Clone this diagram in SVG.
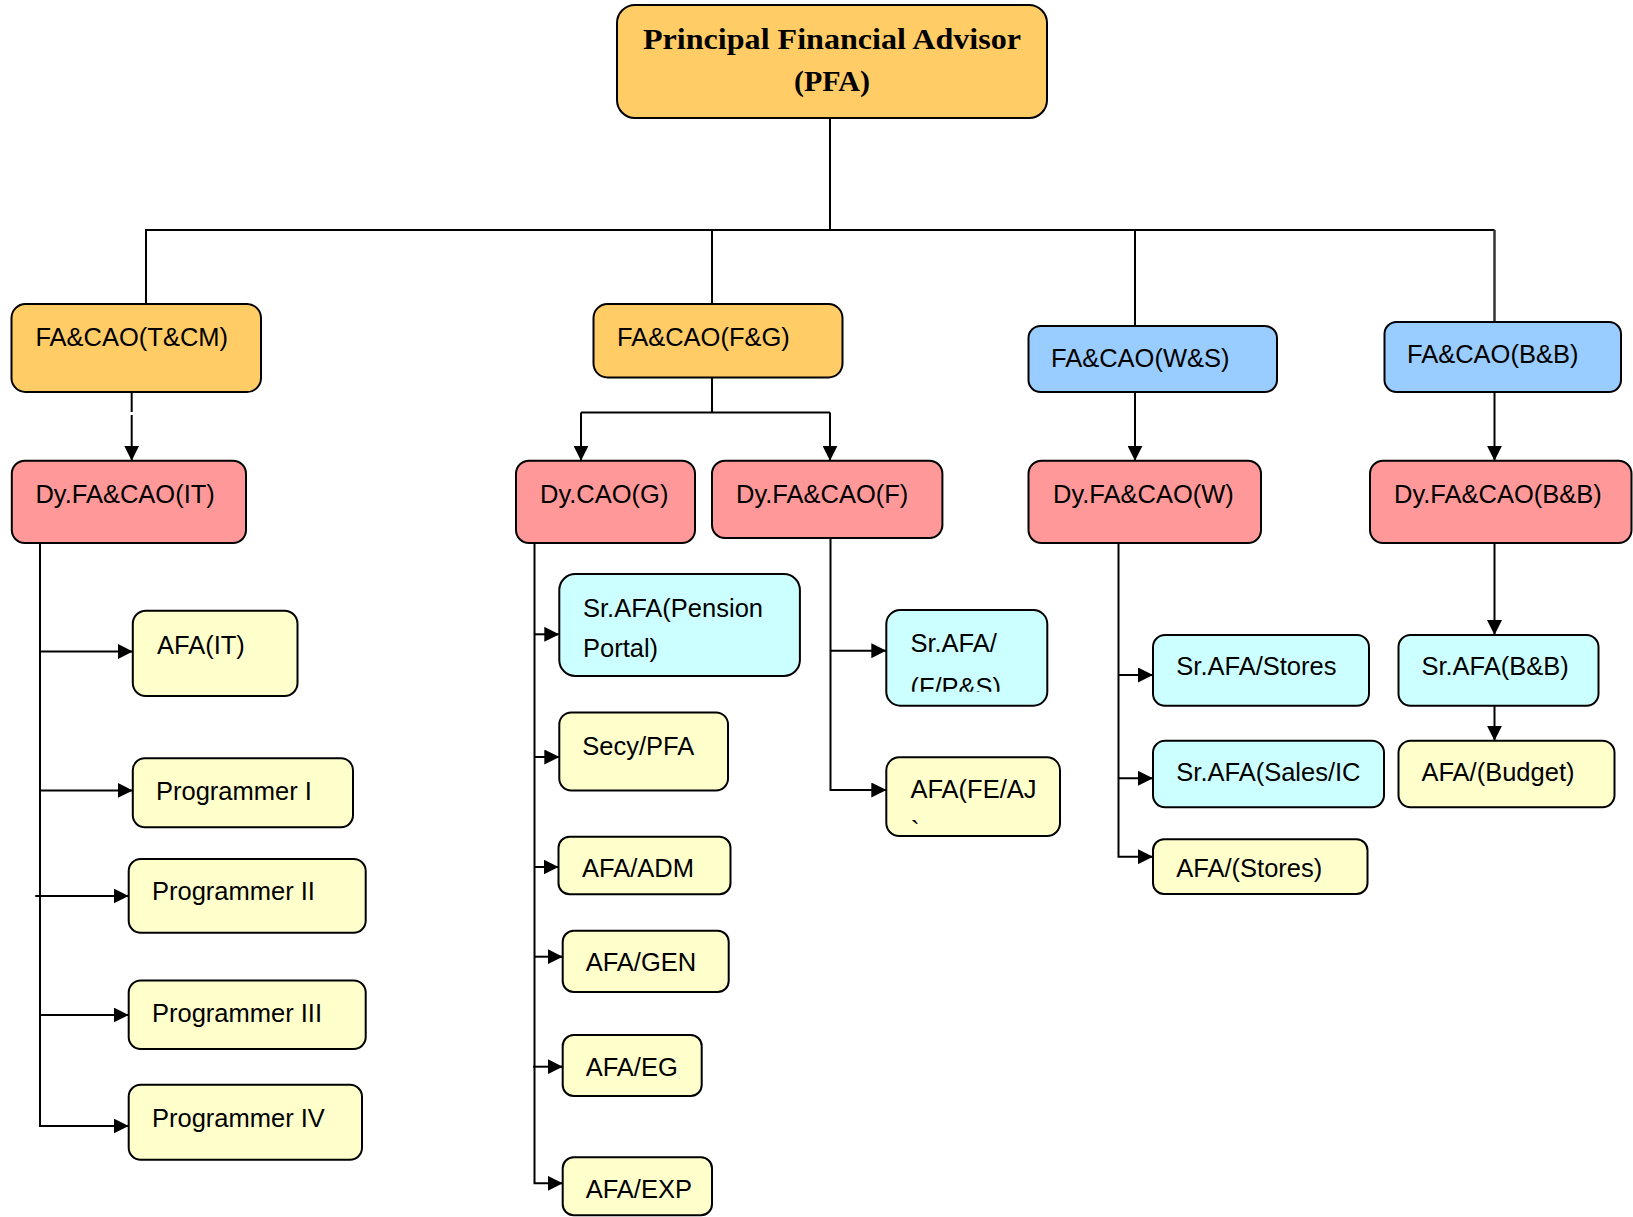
<svg xmlns="http://www.w3.org/2000/svg" width="1633" height="1217" viewBox="0 0 1633 1217">
<style>
.box{stroke:#000;stroke-width:2}
.org{fill:#FFCC66}
.blu{fill:#99CCFF}
.pnk{fill:#FF9999}
.cyn{fill:#CCFFFF}
.yel{fill:#FFFFCC}
.t{font-family:"Liberation Sans",Arial,sans-serif;font-size:25.5px;fill:#000}
.h{font-family:"Liberation Serif","Times New Roman",serif;font-size:30px;font-weight:bold;fill:#000}
.c{fill:none;stroke:#000;stroke-width:2}
.a{fill:none;stroke:#000;stroke-width:2;marker-end:url(#arr)}
</style>
<defs>
<marker id="arr" viewBox="0 0 10 10" refX="10" refY="5" markerWidth="15" markerHeight="15" markerUnits="userSpaceOnUse" orient="auto">
<path d="M0,0 L10,5 L0,10 z" fill="#000"/>
</marker>
<clipPath id="clipFPS"><rect x="886" y="600" width="170" height="91.7"/></clipPath>
</defs>
<rect width="1633" height="1217" fill="#fff"/>

<g id="connectors">
<path class="c" d="M830,118 V230"/>
<path class="c" d="M146,304 V230 H1494.5"/>
<path d="M1494.5,230 V326" fill="none" stroke="#333" stroke-width="2.5"/>
<path class="c" d="M712,230 V304"/>
<path class="c" d="M1135,230 V326"/>
<path class="c" d="M131.7,392 V412"/>
<path class="a" d="M131.7,415 V460.7"/>
<path class="c" d="M712,377.5 V412.5 M581,412.5 H830"/>
<path class="a" d="M581,412.5 V460.7"/>
<path class="a" d="M830,412.5 V460.7"/>
<path class="a" d="M1135,392 V460.7"/>
<path class="a" d="M1494.5,392 V460.7"/>

<path class="a" d="M40,543 V1126 H128.7"/>
<path class="a" d="M40,651.5 H132.8"/>
<path class="a" d="M40,790.4 H132.8"/>
<path class="a" d="M35.3,896 H128.7"/>
<path class="a" d="M40,1015 H128.7"/>

<path class="a" d="M534.5,543 V1183.3 H562.7"/>
<path class="a" d="M534.5,634.3 H559.3"/>
<path class="a" d="M534.5,757 H559.3"/>
<path class="a" d="M534.5,867 H558.5"/>
<path class="a" d="M534.5,956.7 H562.7"/>
<path class="a" d="M533,1066.7 H562.7"/>

<path class="a" d="M830.5,538 V790 H886.3"/>
<path class="a" d="M830.5,650.7 H886.3"/>

<path class="a" d="M1118.5,543 V856.7 H1153"/>
<path class="a" d="M1118.5,675 H1153"/>
<path class="a" d="M1118.5,778.3 H1153"/>

<path class="a" d="M1494.5,543 V635"/>
<path class="a" d="M1494.5,705.7 V740.7"/>
</g>

<g id="pfa">
<rect class="box org" x="617" y="5" width="430" height="113" rx="18"/>
<text class="h" x="832" y="49" text-anchor="middle" textLength="378" lengthAdjust="spacingAndGlyphs">Principal Financial Advisor</text>
<text class="h" x="832" y="91" text-anchor="middle">(PFA)</text>
</g>

<g id="facao-tcm"><rect class="box org" x="11.5" y="304" width="249.5" height="88" rx="14"/><text class="t" x="35.4" y="346.4">FA&amp;CAO(T&amp;CM)</text></g>
<g id="facao-fg"><rect class="box org" x="593.5" y="304" width="249" height="73.5" rx="14"/><text class="t" x="617" y="345.7">FA&amp;CAO(F&amp;G)</text></g>
<g id="facao-ws"><rect class="box blu" x="1028.5" y="326" width="248.5" height="66" rx="12"/><text class="t" x="1051" y="367">FA&amp;CAO(W&amp;S)</text></g>
<g id="facao-bb"><rect class="box blu" x="1384.5" y="322" width="236.5" height="70" rx="12"/><text class="t" x="1407" y="362.5">FA&amp;CAO(B&amp;B)</text></g>

<g id="dy-it"><rect class="box pnk" x="11.8" y="460.7" width="234.2" height="82.3" rx="13"/><text class="t" x="35.4" y="503">Dy.FA&amp;CAO(IT)</text></g>
<g id="dy-g"><rect class="box pnk" x="516" y="460.7" width="179" height="82.3" rx="13"/><text class="t" x="540" y="503">Dy.CAO(G)</text></g>
<g id="dy-f"><rect class="box pnk" x="712" y="460.7" width="230.4" height="77.3" rx="13"/><text class="t" x="736" y="503">Dy.FA&amp;CAO(F)</text></g>
<g id="dy-w"><rect class="box pnk" x="1028.5" y="460.7" width="232.5" height="82.3" rx="13"/><text class="t" x="1053" y="503">Dy.FA&amp;CAO(W)</text></g>
<g id="dy-bb"><rect class="box pnk" x="1370" y="460.7" width="261.5" height="82.3" rx="13"/><text class="t" x="1394" y="503">Dy.FA&amp;CAO(B&amp;B)</text></g>

<g id="afa-it"><rect class="box yel" x="132.8" y="610.7" width="164.7" height="85.3" rx="13"/><text class="t" x="157" y="653.5">AFA(IT)</text></g>
<g id="prog-1"><rect class="box yel" x="132.8" y="758.3" width="220.2" height="69" rx="12"/><text class="t" x="156" y="799.5">Programmer I</text></g>
<g id="prog-2"><rect class="box yel" x="128.7" y="859" width="237" height="73.8" rx="12"/><text class="t" x="152" y="900">Programmer II</text></g>
<g id="prog-3"><rect class="box yel" x="128.7" y="980.5" width="237" height="68.5" rx="12"/><text class="t" x="152" y="1021.5">Programmer III</text></g>
<g id="prog-4"><rect class="box yel" x="128.7" y="1084.7" width="233.3" height="75" rx="12"/><text class="t" x="152" y="1126.5">Programmer IV</text></g>

<g id="sr-afa-pension"><rect class="box cyn" x="559.3" y="574" width="240.6" height="102" rx="16"/><text class="t" x="583" y="616.6">Sr.AFA(Pension</text><text class="t" x="583" y="657.2">Portal)</text></g>
<g id="secy-pfa"><rect class="box yel" x="559.3" y="712.4" width="168.7" height="78.1" rx="12"/><text class="t" x="582.2" y="755">Secy/PFA</text></g>
<g id="afa-adm"><rect class="box yel" x="558.5" y="836.7" width="172" height="57.5" rx="11"/><text class="t" x="582" y="877">AFA/ADM</text></g>
<g id="afa-gen"><rect class="box yel" x="562.7" y="930.7" width="166" height="61.3" rx="11"/><text class="t" x="585.7" y="971">AFA/GEN</text></g>
<g id="afa-eg"><rect class="box yel" x="562.7" y="1035" width="139" height="61" rx="11"/><text class="t" x="585.7" y="1076">AFA/EG</text></g>
<g id="afa-exp"><rect class="box yel" x="562.7" y="1157.3" width="149.3" height="58" rx="11"/><text class="t" x="585.7" y="1198.3">AFA/EXP</text></g>

<g id="sr-afa-fps"><rect class="box cyn" x="886.3" y="610" width="161" height="95.7" rx="14"/><text class="t" x="910.4" y="651.7">Sr.AFA/</text><text class="t" x="910.4" y="696" clip-path="url(#clipFPS)">(F/P&amp;S)</text></g>
<g id="afa-feaj"><rect class="box yel" x="886.3" y="757.3" width="173.7" height="78.7" rx="13"/><text class="t" x="910.4" y="798.3">AFA(FE/AJ</text><text class="t" x="911" y="839">`</text></g>

<g id="sr-afa-stores"><rect class="box cyn" x="1153" y="635" width="216" height="70.7" rx="12"/><text class="t" x="1176.3" y="675">Sr.AFA/Stores</text></g>
<g id="sr-afa-sales"><rect class="box cyn" x="1153" y="740.7" width="231" height="66.6" rx="12"/><text class="t" x="1176.3" y="780.7">Sr.AFA(Sales/IC</text></g>
<g id="afa-stores"><rect class="box yel" x="1153" y="839.3" width="214.5" height="54.7" rx="11"/><text class="t" x="1176.3" y="877.3">AFA/(Stores)</text></g>
<g id="sr-afa-bb"><rect class="box cyn" x="1398.5" y="635" width="200" height="70.7" rx="12"/><text class="t" x="1421.4" y="675">Sr.AFA(B&amp;B)</text></g>
<g id="afa-budget"><rect class="box yel" x="1398.5" y="740.7" width="216" height="66.6" rx="12"/><text class="t" x="1421.4" y="780.7">AFA/(Budget)</text></g>
</svg>
